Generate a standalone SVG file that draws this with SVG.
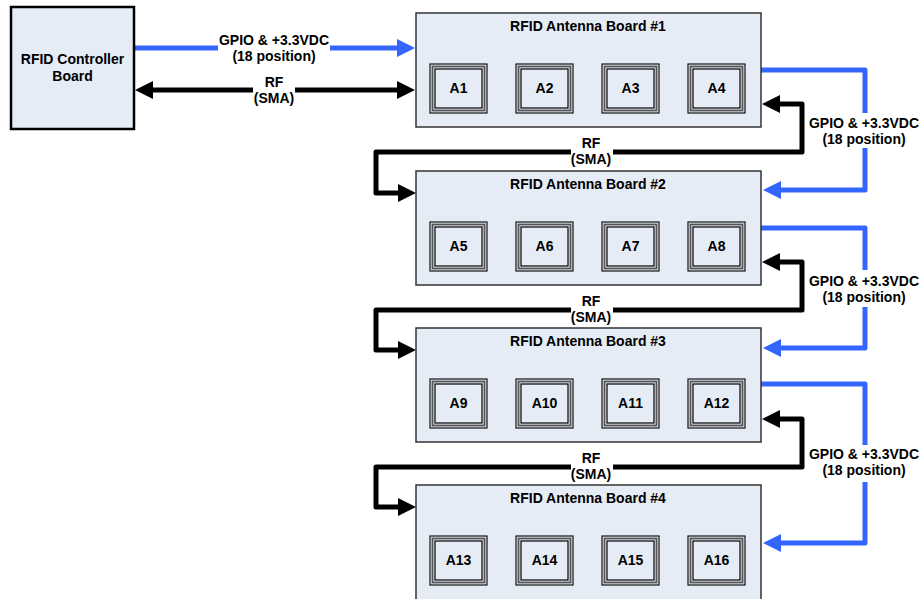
<svg xmlns="http://www.w3.org/2000/svg" width="922" height="599" viewBox="0 0 922 599">
<style>
text{font-family:"Liberation Sans",Arial,sans-serif;font-weight:bold;font-size:14px;fill:#000;text-anchor:middle}
.board{fill:#e5ecf6;stroke:#333;stroke-width:1.5}
.ctrl{fill:#e5ecf6;stroke:#000;stroke-width:2.5}
.ao{fill:#e5ecf6;stroke:#111;stroke-width:1.2}
.am{fill:none;stroke:#555;stroke-width:1.8}
.ai{fill:#e5ecf6;stroke:#000;stroke-width:1.2}
.blue{fill:none;stroke:#3366ff;stroke-width:5;stroke-linejoin:round}
.black{fill:none;stroke:#000;stroke-width:5;stroke-linejoin:round}
.gap{fill:#fff;stroke:none}
</style>
<defs>
<marker id="hb" viewBox="0 0 18 18" markerWidth="18" markerHeight="18" refX="0" refY="9" markerUnits="userSpaceOnUse" orient="auto-start-reverse"><path d="M0,0 L18,9 L0,18 z" fill="#000"/></marker>
<marker id="hl" viewBox="0 0 18 18" markerWidth="18" markerHeight="18" refX="0" refY="9" markerUnits="userSpaceOnUse" orient="auto"><path d="M0,0 L18,9 L0,18 z" fill="#3366ff"/></marker>
<g id="ant">
<rect class="ao" x="0" y="0" width="57" height="49"/>
<rect class="am" x="2.5" y="2.5" width="52" height="44"/>
<rect class="ai" x="5" y="5" width="47" height="39"/>
</g>
</defs>

<g id="connectors">
<path class="blue" d="M134,48 H397" marker-end="url(#hl)"/>
<path class="black" d="M153,90 H397" marker-start="url(#hb)" marker-end="url(#hb)"/>
<path class="blue" d="M761,70 H865 V190 H781" marker-end="url(#hl)"/>
<path class="blue" d="M761,228 H865 V348 H781" marker-end="url(#hl)"/>
<path class="blue" d="M761,384 H865 V543 H781" marker-end="url(#hl)"/>
<path class="black" d="M398,193 H376 V152 H802 V104 H780" marker-start="url(#hb)" marker-end="url(#hb)"/>
<path class="black" d="M398,350 H376 V310 H802 V262 H780" marker-start="url(#hb)" marker-end="url(#hb)"/>
<path class="black" d="M398,507 H376 V467 H802 V419 H780" marker-start="url(#hb)" marker-end="url(#hb)"/>
</g>

<g id="labels">
<rect class="gap" x="218" y="42" width="112" height="12"/>
<text x="274" y="45">GPIO &amp; +3.3VDC</text>
<text x="274" y="61">(18 position)</text>
<rect class="gap" x="253" y="84" width="42" height="12"/>
<text x="274" y="87">RF</text>
<text x="274" y="103">(SMA)</text>

<rect class="gap" x="855" y="113" width="20" height="35"/>
<text x="864" y="128">GPIO &amp; +3.3VDC</text>
<text x="864" y="144">(18 position)</text>
<rect class="gap" x="855" y="270" width="20" height="37"/>
<text x="864" y="286">GPIO &amp; +3.3VDC</text>
<text x="864" y="302">(18 position)</text>
<rect class="gap" x="855" y="445" width="20" height="37"/>
<text x="864" y="459">GPIO &amp; +3.3VDC</text>
<text x="864" y="475">(18 position)</text>

<rect class="gap" x="571" y="146" width="42" height="12"/>
<text x="591" y="148">RF</text>
<text x="591" y="164">(SMA)</text>
<rect class="gap" x="571" y="304" width="42" height="12"/>
<text x="591" y="306">RF</text>
<text x="591" y="322">(SMA)</text>
<rect class="gap" x="571" y="461" width="42" height="12"/>
<text x="591" y="463">RF</text>
<text x="591" y="479">(SMA)</text>
</g>

<g id="controller">
<rect class="ctrl" x="11" y="7" width="123" height="122"/>
<text x="72.5" y="64">RFID Controller</text>
<text x="72.5" y="81">Board</text>
</g>

<g id="board1">
<rect class="board" x="416" y="13" width="345" height="114"/>
<text x="588" y="31">RFID Antenna Board #1</text>
<use href="#ant" x="430" y="64"/><text x="458.5" y="93">A1</text>
<use href="#ant" x="516" y="64"/><text x="544.5" y="93">A2</text>
<use href="#ant" x="602" y="64"/><text x="630.5" y="93">A3</text>
<use href="#ant" x="688" y="64"/><text x="716.5" y="93">A4</text>
</g>

<g id="board2">
<rect class="board" x="416" y="171" width="345" height="114"/>
<text x="588" y="189">RFID Antenna Board #2</text>
<use href="#ant" x="430" y="222"/><text x="458.5" y="251">A5</text>
<use href="#ant" x="516" y="222"/><text x="544.5" y="251">A6</text>
<use href="#ant" x="602" y="222"/><text x="630.5" y="251">A7</text>
<use href="#ant" x="688" y="222"/><text x="716.5" y="251">A8</text>
</g>

<g id="board3">
<rect class="board" x="416" y="328" width="345" height="114"/>
<text x="588" y="346">RFID Antenna Board #3</text>
<use href="#ant" x="430" y="379"/><text x="458.5" y="408">A9</text>
<use href="#ant" x="516" y="379"/><text x="544.5" y="408">A10</text>
<use href="#ant" x="602" y="379"/><text x="630.5" y="408">A11</text>
<use href="#ant" x="688" y="379"/><text x="716.5" y="408">A12</text>
</g>

<g id="board4">
<rect class="board" x="416" y="485" width="345" height="120"/>
<text x="588" y="503">RFID Antenna Board #4</text>
<use href="#ant" x="430" y="536"/><text x="458.5" y="565">A13</text>
<use href="#ant" x="516" y="536"/><text x="544.5" y="565">A14</text>
<use href="#ant" x="602" y="536"/><text x="630.5" y="565">A15</text>
<use href="#ant" x="688" y="536"/><text x="716.5" y="565">A16</text>
</g>
</svg>
